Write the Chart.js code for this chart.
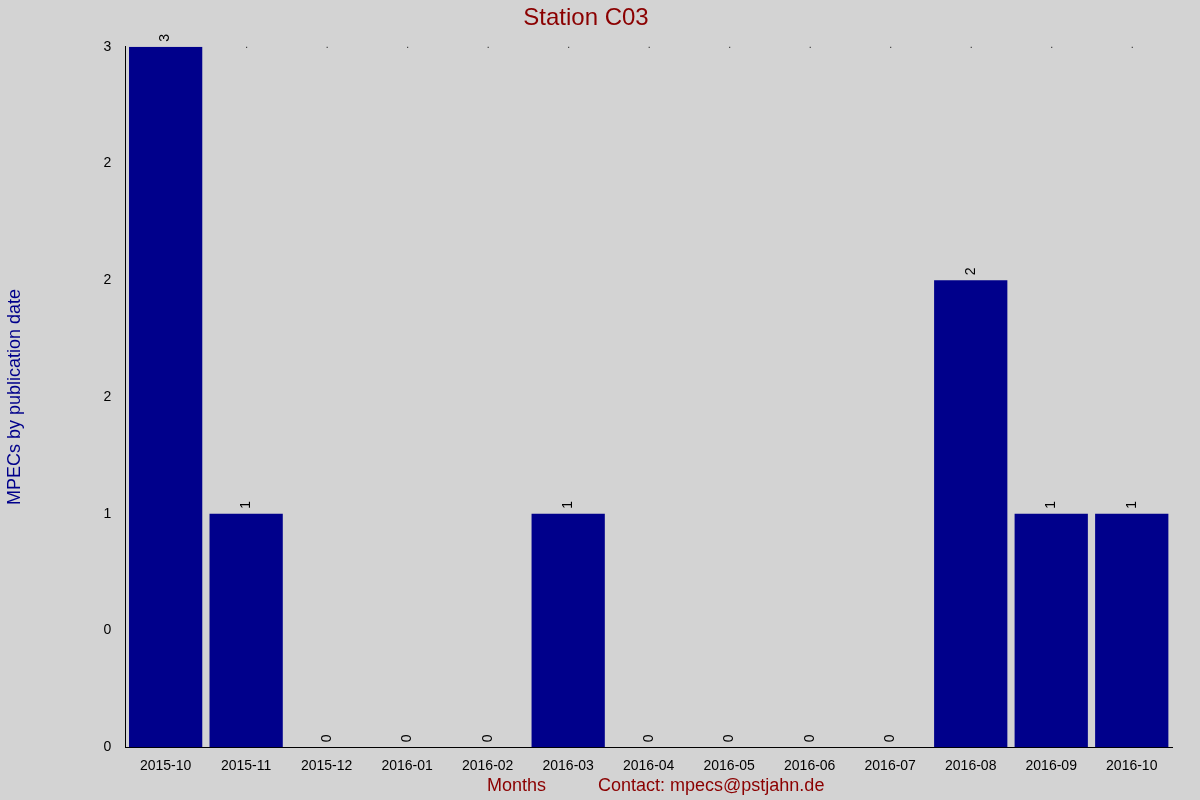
<!DOCTYPE html>
<html><head><meta charset="utf-8">
<script src="https://cdn.jsdelivr.net/npm/chart.js@4"></script>
<style>html,body{margin:0;background:#d3d3d3;}#w{width:1200px;height:800px;position:relative}</style>
</head><body><div id="w"><canvas id="c" width="1200" height="800"></canvas></div>
<script>
const categories=["2015-10","2015-11","2015-12","2016-01","2016-02","2016-03","2016-04","2016-05","2016-06","2016-07","2016-08","2016-09","2016-10"];
const values=[3,1,0,0,0,1,0,0,0,0,2,1,1];
const tickValues=[0,0.5,1,1.5,2,2.5,3];
const tickLabels=["0","0","1","2","2","2","3"];
const labelsPlugin={id:'lbl',afterDatasetsDraw(ch){
  const ctx=ch.ctx,meta=ch.getDatasetMeta(0);
  ctx.save();ctx.font='14px "Liberation Sans", Arial';ctx.fillStyle='#000';ctx.textBaseline='middle';ctx.textAlign='left';
  meta.data.forEach((b,i)=>{ctx.save();ctx.translate(b.x,b.y-5);ctx.rotate(-Math.PI/2);ctx.fillText(String(values[i]),0,0);ctx.restore();});
  const ys=ch.scales.y.getPixelForValue(3);
  meta.data.forEach((b,i)=>{if(i>0){ctx.fillRect(b.x,ys,1,1);}});
  ctx.font='18px "Liberation Sans", Arial';ctx.fillStyle='#8b0000';ctx.textAlign='left';
  ctx.fillText('Months',487,786);ctx.fillText('Contact: mpecs@pstjahn.de',598,786);
  ctx.restore();}};
new Chart(document.getElementById('c'),{type:'bar',
 data:{labels:categories,datasets:[{data:values,backgroundColor:'#00008b',barPercentage:0.91,categoryPercentage:1}]},
 options:{responsive:false,animation:false,
  layout:{padding:{left:0,right:28,top:0,bottom:22}},
  plugins:{legend:{display:false},tooltip:{enabled:false},
   title:{display:true,text:'Station C03',color:'#8b0000',font:{size:24,family:'"Liberation Sans", Arial',weight:'normal'},padding:{top:4,bottom:14}}},
  scales:{
   x:{grid:{display:false,drawTicks:true},border:{color:'#000'},ticks:{color:'#000',font:{size:14,family:'"Liberation Sans", Arial'},maxRotation:0,autoSkip:false}},
   y:{min:0,max:3,afterBuildTicks(s){s.ticks=tickValues.map(v=>({value:v}));},
    grid:{display:false,drawTicks:true,tickLength:6,tickColor:'#000'},border:{color:'#000'},
    ticks:{color:'#000',font:{size:14,family:'"Liberation Sans", Arial'},padding:8,callback:(v,i)=>tickLabels[i]},
    title:{display:true,text:'MPECs by publication date',color:'#00008b',font:{size:18,family:'"Liberation Sans", Arial'},padding:{bottom:70}}}}},
 plugins:[labelsPlugin]});
</script></body></html>
